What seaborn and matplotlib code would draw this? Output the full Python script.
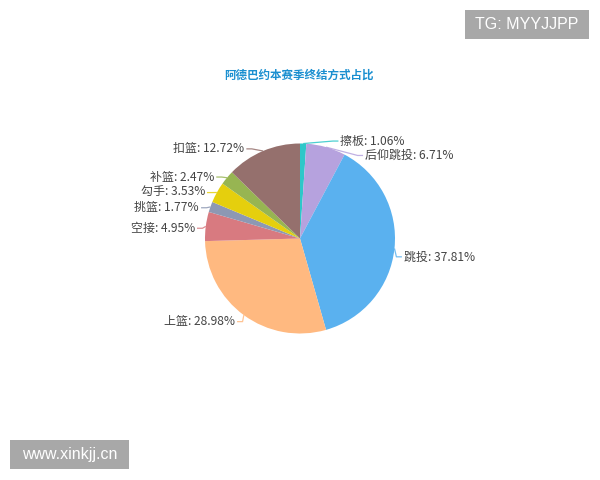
import numpy as np
import matplotlib
matplotlib.use("Agg")
import matplotlib.pyplot as plt
import seaborn as sns
from matplotlib.patches import Rectangle

# ---------------- data ----------------
categories = ["擦板", "后仰跳投", "跳投", "上篮", "空接", "挑篮", "勾手", "补篮", "扣篮"]
shares = [1.06, 6.71, 37.81, 28.98, 4.95, 1.77, 3.53, 2.47, 12.72]
slice_colors = ["#2ec7c9", "#b6a2de", "#5ab1ef", "#ffb980", "#d87a80",
                "#8d98b3", "#e5cf0d", "#97b552", "#95706d"]
title_text = "阿德巴约本赛季终结方式占比"
watermark_top = "TG: MYYJJPP"
watermark_bottom = "www.xinkjj.cn"

# ---------------- style ----------------
sns.set_theme(style="white")
plt.rcParams['font.family'] = ['Noto Sans CJK SC', 'DejaVu Sans']
palette = sns.color_palette(slice_colors)

W, H = 600, 480
fig = plt.figure(figsize=(6, 4.8), dpi=100, facecolor="white")
ax = fig.add_axes([0, 0, 1, 1])

CX, CY = 300.0, 238.5   # pie centre, screen pixels (y downward)
R = 95.0


def sy(y):
    return H - y


ax.pie(shares, colors=palette, startangle=90, counterclock=False,
       radius=R, center=(CX, sy(CY)), wedgeprops=dict(linewidth=0))
ax.set_xlim(0, W)
ax.set_ylim(0, H)
ax.set_aspect("equal")
ax.axis("off")

# ---------------- echarts-like outside labels ----------------
LEN, LEN2, GAP = 5.0, 5.5, 2.0
LH = 14.4
YOFF = 2.5
fracs = np.array(shares) / np.sum(shares)
mids = np.cumsum(fracs) - fracs / 2
theta = 2 * np.pi * mids

items = []
for i, (cat, v, t) in enumerate(zip(categories, shares, theta)):
    dx, dy = np.sin(t), -np.cos(t)
    ex, ey = CX + R * dx, CY + R * dy
    ly = CY + (R + LEN) * dy + YOFF
    side = 1 if dx >= 0 else -1
    items.append(dict(i=i, text=f"{cat}: {v:.2f}%", ex=ex, ey=ey, y=ly,
                      nx=CX + (R + LEN + LEN2) * dx, side=side))


def adjust(lst):
    lst.sort(key=lambda d: d['y'])
    n = len(lst)

    def shift_up(end, delta):
        for j in range(end, -1, -1):
            lst[j]['y'] -= delta
            if j > 0 and lst[j]['y'] > lst[j - 1]['y'] + LH:
                break

    def shift_down(start, end, delta):
        for j in range(start, end):
            lst[j]['y'] += delta
            if j > start and j + 1 < end and lst[j + 1]['y'] > lst[j]['y'] + LH:
                shift_up(j, delta / 2)
                return
        shift_up(end - 1, delta / 2)

    last_y = 0
    for k in range(n):
        delta = lst[k]['y'] - last_y
        if delta < 0:
            shift_down(k, n, -delta)
        last_y = lst[k]['y'] + LH


def change_x(lst, is_down):
    Rt = R + LEN + LEN2
    last = 1e9 if is_down else 0.0
    for d in lst:
        ddy = abs(d['y'] - CY)
        if ddy < R + LEN:
            ddx = np.sqrt(Rt ** 2 - ddy ** 2)
        else:
            ddx = abs(d['nx'] - CX)
        if is_down and ddx >= last:
            ddx = last - 10
        if (not is_down) and ddx <= last:
            ddx = last + 10
        d['x'] = CX + ddx * d['side']
        last = ddx


for s in (1, -1):
    lst = [d for d in items if d['side'] == s]
    adjust(lst)
    up = [d for d in lst if d['y'] < CY]
    down = [d for d in lst if d['y'] >= CY]
    change_x(up, False)
    change_x(down, True)

for d in items:
    col = palette[d['i']]
    s = d['side']
    p2x = d['x'] - s * GAP
    p1x = p2x - s * LEN2
    ax.plot([d['ex'], p1x, p2x], [sy(d['ey']), sy(d['y']), sy(d['y'])],
            color=col, lw=0.9, alpha=0.85, solid_capstyle="butt")
    ax.text(d['x'], sy(d['y']), d['text'], ha="left" if s > 0 else "right",
            va="center", fontsize=8.64, color="#444444")

# ---------------- title ----------------
ax.text(299, sy(75), title_text, ha="center", va="center", fontsize=8.3,
        fontweight="bold", color="#1a8fd0")

# ---------------- watermarks ----------------
ax.add_patch(Rectangle((465, sy(39)), 124, 29, facecolor="#a8a8a8",
                       edgecolor="none", zorder=5))
ax.text(527, sy(24.5), watermark_top, ha="center", va="center",
        fontsize=11.5, color="white", family=["Liberation Sans", "DejaVu Sans"],
        zorder=6)
ax.add_patch(Rectangle((10, sy(469)), 119, 29, facecolor="#a8a8a8",
                       edgecolor="none", zorder=5))
ax.text(69.5, sy(454.5), watermark_bottom, ha="center", va="center",
        fontsize=11.5, color="white", family=["Liberation Sans", "DejaVu Sans"],
        zorder=6)

fig.savefig("out.png", dpi=100, facecolor="white")
